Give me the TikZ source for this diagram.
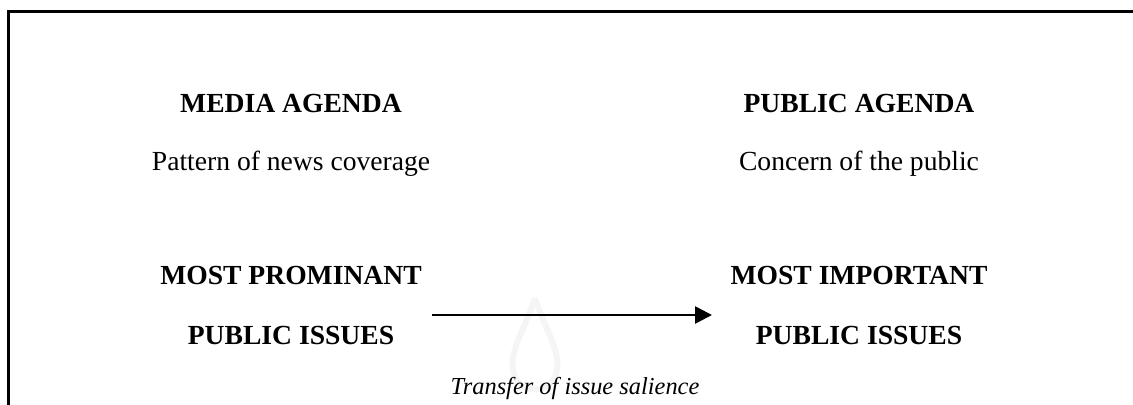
\documentclass[tikz,border=0pt]{standalone}
\usepackage{fontspec}
\setmainfont{Liberation Serif}
\usetikzlibrary{arrows.meta}

\tikzset{
	heading/.style={anchor=base, font=\fontsize{13.8}{16}\selectfont\bfseries},
	plain/.style={anchor=base, font=\fontsize{13.8}{16}\selectfont},
	caption/.style={anchor=base, font=\fontsize{12.2}{14}\selectfont\itshape}
}

\begin{document}
\begin{tikzpicture}[x=0.5pt, y=-0.5pt]
	%%%%% START %%%%%
	
	\useasboundingbox (0, 0) rectangle (1133, 405);
	
	% frame, open at right and bottom
	\draw[line width=1.5pt] (8, 405) -- (8, 12) -- (1133, 12);
	
	% faint mark behind the arrow
	\draw[line width=3pt, color=black!4] (535, 298) .. controls (545, 330) and (560, 348) .. (557, 370) .. controls (553, 396) and (517, 396) .. (513, 370) .. controls (510, 348) and (525, 330) .. (535, 298);
	
	\node[heading] (media) at (291, 113) {MEDIA AGENDA};
	\node[plain] (pattern) at (291, 171) {Pattern of news coverage};
	\node[heading] (prominant) at (291, 285) {MOST PROMINANT};
	\node[heading] (issuesL) at (291, 344) {PUBLIC ISSUES};
	
	\node[heading] (public) at (859, 113) {PUBLIC AGENDA};
	\node[plain] (concern) at (859, 171) {Concern of the public};
	\node[heading] (important) at (859, 285) {MOST IMPORTANT};
	\node[heading] (issuesR) at (859, 344) {PUBLIC ISSUES};
	
	\coordinate (tail) at (432, 315);
	\coordinate (head) at (712, 315);
	\draw[line width=1.3pt, -{Triangle[length=8.5pt, width=8.5pt]}] (tail) -- (head);
	
	\node[caption] (salience) at (575, 394) {Transfer of issue salience};
	
	%%%%% END %%%%%
\end{tikzpicture}
\end{document}
